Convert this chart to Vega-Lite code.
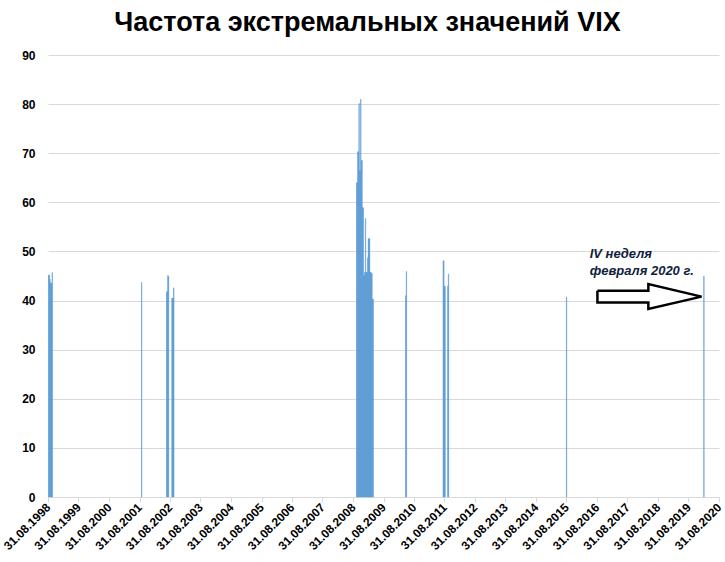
{
  "$schema": "https://vega.github.io/schema/vega-lite/v6.json",
  "autosize": {"type": "none"},
  "width": 671,
  "height": 442,
  "padding": {"left": 48, "top": 55, "right": 6, "bottom": 65},
  "background": "white",
  "title": {
    "text": "Частота экстремальных значений VIX",
    "font": "Liberation Sans",
    "fontSize": 27,
    "fontWeight": "bold",
    "color": "black",
    "anchor": "middle",
    "baseline": "alphabetic",
    "offset": -9,
    "dx": -16
  },
  "config": {
    "view": {"stroke": null},
    "axis": {"labelFont": "Liberation Sans", "labelFontWeight": "bold", "labelColor": "black", "labelFontSize": 12, "labelOverlap": false},
    "axisX": {
      "labelOverlap": false,
      "labelSeparation": 0,
      "labelFontSize": 12,
      "format": "%d.%m.%Y",
      "labelAngle": -45,
      "labelAlign": "right",
      "labelBaseline": "middle",
      "labelPadding": 3,
      "labelBound": false,
      "labelFlush": false,
      "tickColor": "#D9D9D9",
      "tickSize": 5,
      "domainColor": "#D9D9D9",
      "grid": false
    }
  },
  "datasets": {
    "bars": [
      {"date": "1998-08-31", "value": 45.2},
      {"date": "1998-09-07", "value": 45.2},
      {"date": "1998-09-14", "value": 44.4},
      {"date": "1998-09-21", "value": 43.7},
      {"date": "1998-09-28", "value": 43.4},
      {"date": "1998-10-05", "value": 43.5},
      {"date": "1998-10-12", "value": 45.7},
      {"date": "2001-09-17", "value": 43.7},
      {"date": "2002-07-15", "value": 41.8},
      {"date": "2002-07-22", "value": 41.8},
      {"date": "2002-07-29", "value": 45.1},
      {"date": "2002-08-05", "value": 44.9},
      {"date": "2002-09-16", "value": 40.5},
      {"date": "2002-09-23", "value": 40.5},
      {"date": "2002-09-30", "value": 40.5},
      {"date": "2002-10-07", "value": 42.6},
      {"date": "2008-10-06", "value": 64.0},
      {"date": "2008-10-13", "value": 64.0},
      {"date": "2008-10-20", "value": 70.3},
      {"date": "2008-10-27", "value": 70.3},
      {"date": "2008-11-03", "value": 80.1},
      {"date": "2008-11-10", "value": 66.5},
      {"date": "2008-11-17", "value": 66.5},
      {"date": "2008-11-24", "value": 81.0},
      {"date": "2008-12-01", "value": 68.5},
      {"date": "2008-12-08", "value": 68.5},
      {"date": "2008-12-15", "value": 58.9},
      {"date": "2008-12-22", "value": 58.9},
      {"date": "2008-12-29", "value": 45.1},
      {"date": "2009-01-05", "value": 45.1},
      {"date": "2009-01-12", "value": 45.8},
      {"date": "2009-01-19", "value": 56.7},
      {"date": "2009-01-26", "value": 45.7},
      {"date": "2009-02-02", "value": 45.7},
      {"date": "2009-02-09", "value": 45.7},
      {"date": "2009-02-16", "value": 48.7},
      {"date": "2009-02-23", "value": 52.6},
      {"date": "2009-03-02", "value": 52.6},
      {"date": "2009-03-09", "value": 52.6},
      {"date": "2009-03-16", "value": 45.8},
      {"date": "2009-03-23", "value": 45.8},
      {"date": "2009-03-30", "value": 45.6},
      {"date": "2009-04-06", "value": 45.5},
      {"date": "2009-04-13", "value": 40.3},
      {"date": "2009-04-20", "value": 40.3},
      {"date": "2010-05-17", "value": 41.0},
      {"date": "2010-05-24", "value": 45.9},
      {"date": "2011-08-08", "value": 48.1},
      {"date": "2011-08-15", "value": 48.1},
      {"date": "2011-08-22", "value": 42.9},
      {"date": "2011-08-29", "value": 42.9},
      {"date": "2011-10-03", "value": 42.9},
      {"date": "2011-10-10", "value": 45.4},
      {"date": "2015-08-24", "value": 40.7},
      {"date": "2020-02-24", "value": 45.0}
    ],
    "arrow": [
      {"o": 1, "date": "2016-09-05", "value": 42.0},
      {"o": 2, "date": "2018-05-08", "value": 42.0},
      {"o": 3, "date": "2018-05-08", "value": 43.35},
      {"o": 4, "date": "2020-02-04", "value": 40.8},
      {"o": 5, "date": "2018-05-08", "value": 38.3},
      {"o": 6, "date": "2018-05-08", "value": 39.6},
      {"o": 7, "date": "2016-09-05", "value": 39.6},
      {"o": 8, "date": "2016-09-05", "value": 42.0}
    ],
    "note": [
      {"date": "2016-06-04", "value": 48.7, "label": "IV неделя\nфевраля 2020 г."}
    ]
  },
  "layer": [
    {
      "data": {"name": "bars"},
      "mark": {"type": "bar", "color": "#5B9BD5", "stroke": "#5B9BD5", "strokeWidth": 0.5},
      "encoding": {
        "x": {
          "field": "date",
          "type": "temporal",
          "timeUnit": "yearweek",
          "title": null,
          "scale": {"domain": [{"year": 1998, "month": 8, "date": 31}, {"year": 2020, "month": 8, "date": 31}]},
          "axis": {
            "values": [
              {"year": 1998, "month": 8, "date": 31}, {"year": 1999, "month": 8, "date": 31},
              {"year": 2000, "month": 8, "date": 31}, {"year": 2001, "month": 8, "date": 31},
              {"year": 2002, "month": 8, "date": 31}, {"year": 2003, "month": 8, "date": 31},
              {"year": 2004, "month": 8, "date": 31}, {"year": 2005, "month": 8, "date": 31},
              {"year": 2006, "month": 8, "date": 31}, {"year": 2007, "month": 8, "date": 31},
              {"year": 2008, "month": 8, "date": 31}, {"year": 2009, "month": 8, "date": 31},
              {"year": 2010, "month": 8, "date": 31}, {"year": 2011, "month": 8, "date": 31},
              {"year": 2012, "month": 8, "date": 31}, {"year": 2013, "month": 8, "date": 31},
              {"year": 2014, "month": 8, "date": 31}, {"year": 2015, "month": 8, "date": 31},
              {"year": 2016, "month": 8, "date": 31}, {"year": 2017, "month": 8, "date": 31},
              {"year": 2018, "month": 8, "date": 31}, {"year": 2019, "month": 8, "date": 31},
              {"year": 2020, "month": 8, "date": 31}
            ],
            "tickCount": 30,
            "format": "%d.%m.%Y",
            "labelOverlap": false
          }
        },
        "y": {
          "field": "value",
          "type": "quantitative",
          "title": null,
          "scale": {"domain": [0, 90], "nice": false},
          "axis": {
            "values": [0, 10, 20, 30, 40, 50, 60, 70, 80, 90],
            "tickCount": 10,
            "grid": true,
            "gridColor": "#D9D9D9",
            "domain": false,
            "ticks": false,
            "labelPadding": 13
          }
        }
      }
    },
    {
      "data": {"name": "arrow"},
      "mark": {"type": "line", "filled": true, "fill": "white", "stroke": "black", "strokeWidth": 2.5, "strokeJoin": "miter"},
      "encoding": {
        "x": {"field": "date", "type": "temporal", "axis": {"labelOverlap": false, "format": "%d.%m.%Y", "tickCount": 30}},
        "y": {"field": "value", "type": "quantitative"},
        "order": {"field": "o", "type": "quantitative"}
      }
    },
    {
      "data": {"name": "note"},
      "mark": {"type": "text", "align": "left", "baseline": "alphabetic", "lineBreak": "\n", "lineHeight": 17, "font": "Liberation Sans", "fontSize": 13, "fontWeight": "bold", "fontStyle": "italic", "color": "#10213f"},
      "encoding": {
        "x": {"field": "date", "type": "temporal", "axis": {"labelOverlap": false, "format": "%d.%m.%Y", "tickCount": 30}},
        "y": {"field": "value", "type": "quantitative"},
        "text": {"field": "label"}
      }
    }
  ]
}
